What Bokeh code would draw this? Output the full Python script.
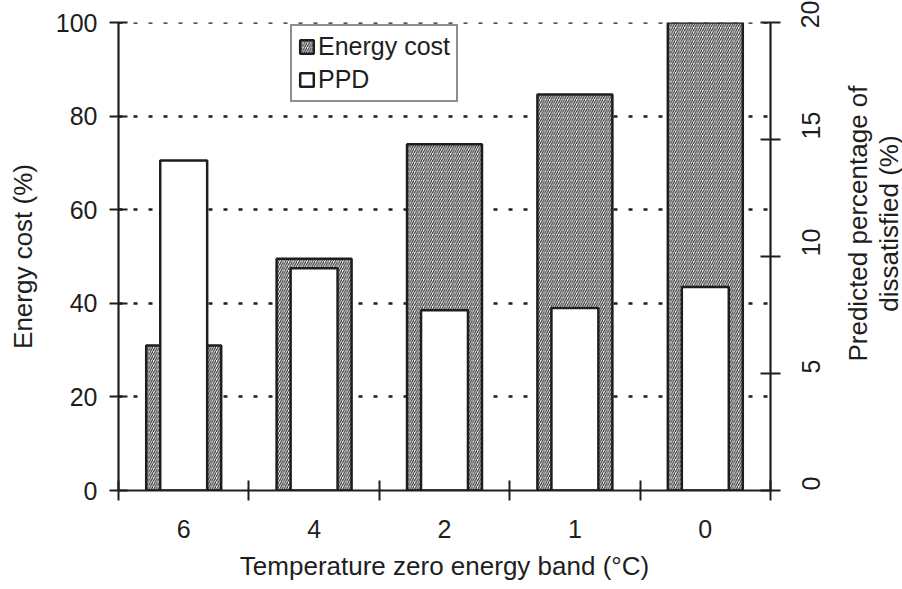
import math

from bokeh.plotting import figure
from bokeh.layouts import row
from bokeh.models import (Range1d, LinearAxis, FixedTicker, Legend, LegendItem,
                          ColumnDataSource, Span)
from bokeh.core.properties import value
from bokeh.embed import file_html
from bokeh.resources import INLINE

# Temperature zero energy band (deg C) and the two results per band
categories = ["6", "4", "2", "1", "0"]
energy_cost = [31.0, 49.5, 74.0, 84.6, 100.0]   # % (left axis)
ppd = [14.1, 9.5, 7.7, 7.8, 8.7]               # % dissatisfied (right axis)

left_ticks = [0, 20, 40, 60, 80, 100]
right_ticks = [0, 5, 10, 15, 20]
right_title = ["Predicted percentage of", "dissatisfied (%)"]

FONT = "Liberation Sans"
INK = "#1e1e1e"

centers = [i + 0.5 for i in range(len(categories))]
src = ColumnDataSource(dict(x=centers, cat=categories, energy=energy_cost, ppd=ppd))

p = figure(width=842, height=589, output_backend="svg", toolbar_location=None,
           x_range=Range1d(0, len(categories)), y_range=Range1d(0, 100),
           min_border_left=118, min_border_right=72,
           min_border_top=22, min_border_bottom=99)
p.outline_line_color = None
p.background_fill_color = "white"
p.border_fill_color = "white"
p.xgrid.visible = False

p.extra_y_ranges = {"ppd": Range1d(0, 20)}

# Dotted horizontal grid (the top line at 100 added as a span)
p.ygrid.ticker = FixedTicker(ticks=left_ticks[1:])
p.ygrid.grid_line_color = INK
p.ygrid.grid_line_width = 2.5
p.ygrid.grid_line_dash = "4 11"
p.add_layout(Span(location=left_ticks[-1], dimension="width", line_color=INK,
                  line_width=2.5, line_dash="4 11", level="underlay"))

# Energy cost: wide hatched bars
r_energy = p.vbar(x="x", top="energy", bottom=0, width=0.575, source=src,
                  fill_color="white", hatch_pattern="/", hatch_color="#2a2a2a",
                  hatch_scale=4.5, hatch_weight=1.15,
                  line_color=INK, line_width=2.5)

# PPD: narrow white bars on the secondary scale
r_ppd = p.vbar(x="x", top="ppd", bottom=0, width=0.36, source=src,
               y_range_name="ppd", fill_color="white",
               line_color=INK, line_width=2.5)

# Left axis
ya = p.yaxis[0]
ya.ticker = FixedTicker(ticks=left_ticks)
ya.axis_label = "Energy cost (%)"

# Bottom axis: labels at band centres, tick marks at band edges
xa = p.xaxis[0]
xa.ticker = FixedTicker(ticks=centers, minor_ticks=list(range(len(categories) + 1)))
xa.major_label_overrides = {c: lab for c, lab in zip(centers, categories)}
xa.axis_label = "Temperature zero energy band (\u00b0C)"
xa.major_tick_in = 0
xa.major_tick_out = 0

# Right axis: ticks and labels reading bottom-to-top
ra = LinearAxis(y_range_name="ppd", ticker=FixedTicker(ticks=right_ticks))
p.add_layout(ra, "right")

for ax in (ya, xa, ra):
    ax.axis_line_color = INK
    ax.axis_line_width = 2.2
    ax.major_tick_line_color = INK
    ax.major_tick_line_width = 2
    ax.minor_tick_line_color = INK
    ax.minor_tick_line_width = 2
    ax.major_label_text_font = FONT
    ax.major_label_text_color = INK
    ax.major_label_text_font_size = "25px"
    ax.axis_label_text_font = FONT
    ax.axis_label_text_color = INK
    ax.axis_label_text_font_size = "26px"
    ax.axis_label_text_font_style = "normal"

ra.major_label_orientation = math.pi / 2
ra.major_label_text_line_height = 1.0

ya.major_tick_in = 9
ya.major_tick_out = 9
ya.minor_tick_in = 0
ya.minor_tick_out = 0
ya.major_label_standoff = 12
ya.axis_label_standoff = 15

xa.minor_tick_in = 10
xa.minor_tick_out = 10
xa.major_label_standoff = 19
xa.axis_label_standoff = 10

ra.major_tick_in = 10
ra.major_tick_out = 10
ra.minor_tick_in = 0
ra.minor_tick_out = 0
ra.major_label_standoff = 30

legend = Legend(items=[LegendItem(label="Energy cost", renderers=[r_energy]),
                       LegendItem(label="PPD", renderers=[r_ppd])],
                location=(172, 388))
legend.border_line_color = INK
legend.border_line_width = 2
legend.background_fill_alpha = 1
legend.label_text_font = FONT
legend.label_text_font_size = "25px"
legend.label_text_color = INK
legend.glyph_width = 17
legend.glyph_height = 17
legend.label_standoff = 3
legend.padding = 6
legend.spacing = 4
legend.margin = 0
legend.label_height = 25
p.add_layout(legend)

# Narrow strip to the right holding the two-line right-axis title,
# reading bottom-to-top; its ranges are plain pixel units
strip = figure(width=60, height=589, output_backend="svg", toolbar_location=None,
               x_range=Range1d(0, 60), y_range=Range1d(0, 589),
               x_axis_type=None, y_axis_type=None, min_border=0)
strip.outline_line_color = None
strip.grid.visible = False
strip.border_fill_color = "white"
strip.background_fill_color = "white"
strip.text(x=[15, 46], y=[336, 336], text=right_title, angle=math.pi / 2,
           text_align="center", text_baseline="middle",
           text_font=value(FONT), text_font_size=value("26px"), text_color=INK)

layout = row(p, strip, spacing=0)

open("out.html", "w").write(file_html(layout, INLINE))
